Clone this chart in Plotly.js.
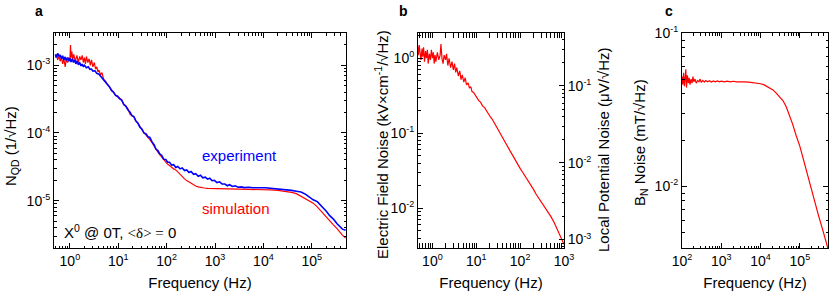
<!DOCTYPE html>
<html>
<head>
<meta charset="utf-8">
<script src="https://cdn.plot.ly/plotly-3.0.1.min.js"></script>
<style>html,body{margin:0;padding:0;background:#fff;}#chart{width:830px;height:299px;}</style>
</head>
<body>
<div id="chart"></div>
<script>
// ---------- Panel a : N_QD spectra ----------
const aExpFreq = [0.5,0.53,0.56,0.6,0.63,0.67,0.71,0.75,0.8,0.84,0.9,0.95,1.0,1.06,1.12,1.19,1.26,1.33,1.41,1.5,1.6,1.7,1.8,1.9,2.0,2.2,2.4,2.6,2.8,3.0,3.3,3.6,4.0,4.4,4.8,5.0,5.5,6.0,6.6,7.3,8.0,8.8,9.7,10.7,11.8,13,14.3,15.8,17.4,19.2,21,23,25.5,28,31,34,37.5,41,45,50,55,60,66,72,79,87,96,105,115,127,140,155,170,190,210,235,260,290,320,360,400,450,500,560,630,700,780,870,970,1100,1250,1400,1600,1800,2000,2300,2600,3000,3500,4000,5000,6000,7500,9000,11000,14000,18000,23000,30000,38000,48000,60000,75000,90000,107000,130000,160000,200000,235000,280000,330000,380000,430000,500000];
const aExp = [1.45e-3,1.3e-3,1.5e-3,1.35e-3,1.42e-3,1.25e-3,1.38e-3,1.2e-3,1.33e-3,1.18e-3,1.3e-3,1.15e-3,1.27e-3,1.12e-3,1.25e-3,1.1e-3,1.2e-3,1.05e-3,1.17e-3,1.02e-3,1.1e-3,0.98e-3,1.04e-3,0.95e-3,1.0e-3,0.92e-3,0.95e-3,0.87e-3,0.88e-3,0.82e-3,0.83e-3,0.76e-3,0.74e-3,0.68e-3,0.64e-3,6.0e-4,5.7e-4,5.1e-4,4.8e-4,4.25e-4,4.0e-4,3.6e-4,3.5e-4,3.2e-4,3.05e-4,2.65e-4,2.5e-4,2.2e-4,2.05e-4,1.8e-4,1.75e-4,1.52e-4,1.4e-4,1.22e-4,1.14e-4,1.0e-4,9.7e-5,8.8e-5,8.6e-5,7.4e-5,6.7e-5,5.8e-5,5.5e-5,4.9e-5,4.7e-5,4.1e-5,4.05e-5,3.7e-5,3.7e-5,3.35e-5,3.4e-5,3.1e-5,3.2e-5,2.95e-5,3.05e-5,2.78e-5,2.85e-5,2.6e-5,2.7e-5,2.45e-5,2.5e-5,2.3e-5,2.38e-5,2.18e-5,2.22e-5,2.08e-5,2.15e-5,1.97e-5,2.0e-5,1.85e-5,1.9e-5,1.76e-5,1.76e-5,1.66e-5,1.72e-5,1.62e-5,1.66e-5,1.58e-5,1.6e-5,1.56e-5,1.58e-5,1.55e-5,1.57e-5,1.55e-5,1.55e-5,1.53e-5,1.5e-5,1.48e-5,1.46e-5,1.42e-5,1.38e-5,1.34e-5,1.24e-5,1.11e-5,1.03e-5,9.7e-6,8.4e-6,7.0e-6,6.0e-6,5.35e-6,4.6e-6,4.1e-6,3.8e-6,3.65e-6,3.6e-6];

const aSimFreq = [0.5,0.53,0.56,0.6,0.63,0.67,0.71,0.75,0.8,0.84,0.9,0.95,1.0,1.03,1.06,1.1,1.15,1.2,1.3,1.4,1.5,1.6,1.7,1.8,1.9,2.0,2.1,2.2,2.35,2.5,2.65,2.8,3.0,3.2,3.4,3.6,3.8,4.0,4.3,4.6,5.0,5.5,6.0,6.6,7.3,8.0,8.8,9.7,10.7,11.8,13,14.3,15.8,17.4,19.2,21,23,25.5,28,31,34,37.5,41,45,50,55,60,66,72,79,87,96,105,115,127,140,155,170,190,210,235,260,290,320,360,400,450,500,600,700,850,1000,1500,2000,3000,5000,7000,10000,14000,20000,28000,38000,48000,60000,75000,90000,107000,130000,160000,200000,235000,280000,330000,380000,430000,500000];
const aSim = [1.3e-3,1.45e-3,1.2e-3,1.38e-3,1.15e-3,1.3e-3,1.05e-3,1.25e-3,0.95e-3,1.2e-3,1.1e-3,1.3e-3,1.15e-3,2.0e-3,1.3e-3,1.6e-3,1.2e-3,1.45e-3,1.15e-3,1.4e-3,1.1e-3,1.35e-3,1.2e-3,1.4e-3,1.1e-3,1.3e-3,1.05e-3,1.35e-3,1.1e-3,1.25e-3,1.0e-3,1.2e-3,0.95e-3,1.1e-3,0.88e-3,0.95e-3,0.8e-3,0.85e-3,0.72e-3,0.78e-3,0.62e-3,0.58e-3,0.52e-3,0.48e-3,0.42e-3,0.4e-3,0.36e-3,0.34e-3,0.33e-3,0.31e-3,0.26e-3,0.25e-3,0.23e-3,0.19e-3,0.18e-3,0.175e-3,0.15e-3,0.14e-3,0.125e-3,0.11e-3,0.1e-3,0.093e-3,0.087e-3,0.08e-3,0.072e-3,0.064e-3,0.057e-3,0.052e-3,0.048e-3,0.044e-3,0.040e-3,0.037e-3,0.0345e-3,0.033e-3,0.031e-3,0.0295e-3,0.0285e-3,0.0265e-3,0.0245e-3,0.0225e-3,0.021e-3,0.0198e-3,0.0188e-3,0.018e-3,0.0172e-3,0.0165e-3,0.016e-3,0.0157e-3,0.0154e-3,0.0152e-3,0.0151e-3,0.015e-3,0.0149e-3,0.0148e-3,0.0148e-3,0.0147e-3,0.0147e-3,0.0146e-3,0.0144e-3,0.0142e-3,0.0138e-3,0.0133e-3,0.0127e-3,0.0117e-3,0.0106e-3,0.0098e-3,0.0092e-3,0.0081e-3,0.0068e-3,0.0057e-3,0.005e-3,0.0044e-3,0.0039e-3,0.0034e-3,0.0031e-3,0.0028e-3];

// ---------- Panel b : electric field noise ----------
const bFreq = [0.46,0.48,0.5,0.52,0.55,0.58,0.6,0.63,0.66,0.7,0.73,0.77,0.8,0.85,0.9,0.95,1.0,1.05,1.1,1.15,1.2,1.3,1.4,1.5,1.57,1.65,1.75,1.85,2.0,2.1,2.25,2.4,2.6,2.8,3.0,3.2,3.4,3.6,3.9,4.2,4.5,4.8,5.2,5.6,6.0,6.5,7.0,7.5,8.0,8.7,9.5,10.5,11.5,12.5,14,15.5,17,19,21,23,26,29,32,36,40,45,50,56,63,70,80,90,100,115,130,150,170,200,230,270,320,360,420,500,600,700,800,900,1000];
const bField = [1.45,1.1,1.5,1.2,0.95,1.35,1.05,1.4,0.9,1.25,1.0,1.3,0.85,1.15,0.95,1.3,1.0,1.2,0.85,1.1,0.9,1.2,0.95,1.1,1.55,1.0,0.85,1.1,0.95,1.15,0.8,1.0,0.75,0.9,0.7,0.85,0.65,0.75,0.58,0.68,0.52,0.6,0.48,0.55,0.44,0.47,0.4,0.42,0.36,0.35,0.32,0.3,0.27,0.26,0.23,0.22,0.2,0.185,0.165,0.155,0.135,0.12,0.108,0.095,0.087,0.077,0.069,0.06,0.054,0.048,0.042,0.037,0.034,0.03,0.027,0.024,0.021,0.018,0.0155,0.0135,0.0115,0.0105,0.009,0.0078,0.0064,0.0053,0.0044,0.0037,0.0033];

// ---------- Panel c : B_N noise ----------
const cFreq = [100,105,110,115,120,125,130,137,145,152,160,170,180,190,200,215,230,250,270,290,310,340,370,400,450,500,560,630,700,800,900,1000,1200,1400,1700,2000,2500,3000,3500,4000,5000,6000,7000,8500,10000,12000,14000,17000,20700,25000,30000,37000,45000,55000,65000,80000,100000,130000,179000,230000,300000,380000,470000,520000];
const cField = [0.052,0.046,0.055,0.045,0.05,0.058,0.044,0.053,0.047,0.051,0.046,0.05,0.047,0.052,0.048,0.05,0.047,0.049,0.048,0.05,0.0475,0.049,0.0478,0.049,0.048,0.0488,0.0478,0.0486,0.048,0.0487,0.048,0.0485,0.048,0.0485,0.048,0.0484,0.048,0.0482,0.0479,0.048,0.0478,0.0476,0.0474,0.047,0.0466,0.046,0.045,0.0437,0.0425,0.0405,0.0385,0.0362,0.033,0.0288,0.0255,0.0215,0.0182,0.0142,0.0103,0.0082,0.0064,0.0052,0.0043,0.0039];

// ---------- tick labels ----------
const aXTickVals = [1,10,100,1e3,1e4,1e5];
const aYTickVals = [1e-5,1e-4,1e-3];
const bXTickVals = [1,10,100,1e3];
const bYTickVals = [1e-2,1e-1,1];
const bY2TickVals = [1e-3,1e-2,1e-1];
const cXTickVals = [1e2,1e3,1e4,1e5];
const cYTickVals = [1e-2,1e-1];

const powText = v => { const p = Math.round(Math.log10(v)); return '10<sup><span style="font-size:9px">' + p + '</span></sup>'; };
function minorVals(lo, hi) {
  const out = [];
  for (let d = lo; d <= hi; d++) for (let k = 2; k <= 9; k++) out.push(k * Math.pow(10, d));
  return out;
}

const FONT = 'Liberation Sans, Arial, sans-serif';
const RED = '#ff0000', BLUE = '#0000ff';
const W = 830, H = 299;
const yDom = [1 - 248 / H, 1 - 33 / H];
const TITLE_FONT = {family: FONT, size: 15, color: '#000'};

function logAxis(tickvals, range, minorLo, minorHi, extra) {
  return Object.assign({
    type: 'log', range: range, tickmode: 'array', tickvals: tickvals, ticktext: tickvals.map(powText),
    ticks: 'inside', ticklen: 5, tickwidth: 1, tickcolor: '#000',
    showline: true, linecolor: '#000', linewidth: 1, mirror: 'allticks',
    showgrid: false, zeroline: false,
    tickfont: {family: FONT, size: 14, color: '#000'},
    minor: {tickmode: 'array', tickvals: minorVals(minorLo, minorHi), ticks: 'inside', ticklen: 2.5, tickwidth: 1, tickcolor: '#000', showgrid: false},
    automargin: false
  }, extra || {});
}
const xTitle = {text: 'Frequency (Hz)', font: TITLE_FONT, standoff: 9};

const traces = [
  {x: aSimFreq, y: aSim, type: 'scatter', mode: 'lines', line: {color: RED, width: 1.2}, xaxis: 'x', yaxis: 'y', name: 'simulation'},
  {x: aExpFreq, y: aExp, type: 'scatter', mode: 'lines', line: {color: BLUE, width: 1.6}, xaxis: 'x', yaxis: 'y', name: 'experiment'},
  {x: bFreq, y: bField, type: 'scatter', mode: 'lines', line: {color: RED, width: 1.2}, xaxis: 'x2', yaxis: 'y2'},
  {x: [], y: [], type: 'scatter', mode: 'lines', xaxis: 'x2', yaxis: 'y3', showlegend: false},
  {x: cFreq, y: cField, type: 'scatter', mode: 'lines', line: {color: RED, width: 1.2}, xaxis: 'x3', yaxis: 'y4'}
];

function note(text, px, py, size, color, angle) {
  return {text: text, xref: 'paper', yref: 'paper', x: px / W, y: 1 - py / H, xanchor: 'center', yanchor: 'middle',
    showarrow: false, textangle: angle || 0, font: {family: FONT, size: size, color: color || '#000'}};
}

const layout = {
  width: W, height: H, margin: {l: 0, r: 0, t: 0, b: 0},
  paper_bgcolor: '#fff', plot_bgcolor: '#fff', showlegend: false,
  font: {family: FONT, size: 14, color: '#000'},
  xaxis: logAxis(aXTickVals, [Math.log10(0.47), Math.log10(5.1e5)], -1, 5, {domain: [54/W, 346/W], anchor: 'y', title: xTitle}),
  yaxis: logAxis(aYTickVals, [Math.log10(2.0e-6), Math.log10(3.0e-3)], -6, -3, {domain: yDom, anchor: 'x'}),
  xaxis2: logAxis(bXTickVals, [Math.log10(0.47), 3], -1, 2, {domain: [418/W, 564/W], anchor: 'y2', title: xTitle}),
  yaxis2: logAxis(bYTickVals, [-2.53, 0.337], -3, 0, {domain: yDom, anchor: 'x2', mirror: false}),
  yaxis3: logAxis(bY2TickVals, [-3.11, -0.31], -4, -1, {domain: yDom, anchor: 'x2', overlaying: 'y2', side: 'right', mirror: false}),
  xaxis3: logAxis(cXTickVals, [2, Math.log10(5.2e5)], 2, 5, {domain: [682/W, 828/W], anchor: 'y4', title: xTitle}),
  yaxis4: logAxis(cYTickVals, [-2.404, -1], -3, -2, {domain: yDom, anchor: 'x3'}),
  annotations: [
    note('<b>a</b>', 39, 11, 14),
    note('<b>b</b>', 403, 11, 14),
    note('<b>c</b>', 669, 11, 14),
    note('experiment', 239, 155, 15, BLUE),
    note('simulation', 236, 208, 15, RED),
    note('X<sup>0</sup> @ 0T, <span style="font-family:Liberation Serif">&lt;δ&gt; =</span> 0', 120, 231, 15),
    note('N<sub>QD</sub> (1/√Hz)', 11, 146, 15, '#000', -90),
    note('Electric Field Noise (kV×cm<sup>-1</sup>/√Hz)', 381, 145, 15, '#000', -90),
    note('Local Potential Noise (μV/√Hz)', 603, 150, 15, '#000', -90),
    note('B<sub>N</sub> Noise (mT/√Hz)', 640, 143, 15, '#000', -90)
  ]
};

Plotly.newPlot('chart', traces, layout, {staticPlot: true, displayModeBar: false});
</script>
</body>
</html>
